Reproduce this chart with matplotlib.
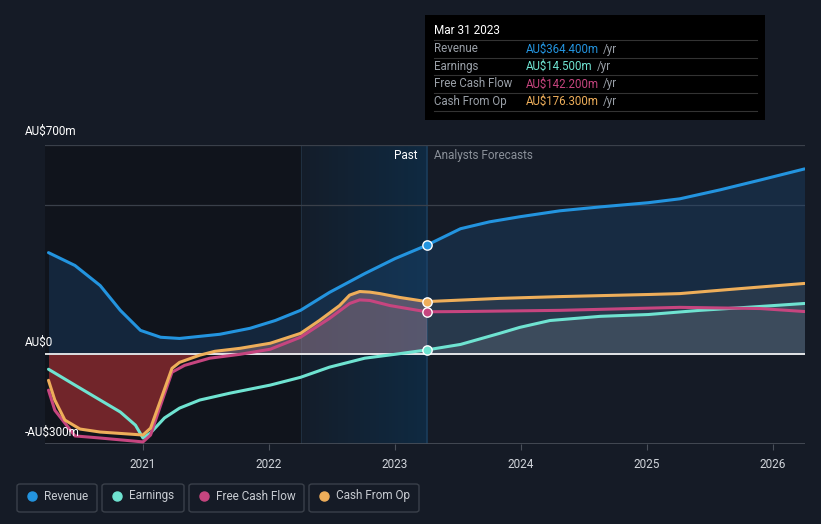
import numpy as np
import matplotlib.pyplot as plt
from matplotlib.patches import FancyBboxPatch, Rectangle

plt.rcParams['font.family'] = ['Roboto', 'DejaVu Sans']

# values in AU$m, dates as decimal years
rev_x = [2020.25, 2020.46, 2020.66, 2020.82, 2020.98, 2021.14, 2021.29, 2021.61, 2021.85,
         2022.05, 2022.25, 2022.48, 2022.76, 2023.0, 2023.25,
         2023.52, 2023.75, 2023.99, 2024.31, 2024.63, 2025.01, 2025.26, 2025.58, 2025.90, 2026.25]
rev_y = [340, 297, 230, 147, 80, 57, 53, 67, 87,
         113, 147, 207, 270, 320, 364.4,
         420, 443, 460, 480, 493, 507, 520, 550, 583, 620]

earn_x = [2020.25, 2020.46, 2020.66, 2020.82, 2020.94, 2021.0, 2021.06, 2021.17, 2021.29,
          2021.45, 2021.69, 2022.01, 2022.25, 2022.48, 2022.76, 2023.0, 2023.25,
          2023.52, 2023.83, 2023.99, 2024.23, 2024.63, 2025.01, 2025.42, 2025.90, 2026.25]
earn_y = [-50, -103, -153, -193, -237, -280, -263, -213, -180,
          -153, -130, -103, -77, -43, -13, 0, 14.5,
          33, 70, 90, 113, 127, 133, 147, 160, 170]

fcf_x = [2020.25, 2020.30, 2020.46, 2020.66, 2021.0, 2021.06, 2021.14, 2021.23, 2021.33,
         2021.53, 2021.77, 2022.01, 2022.25, 2022.48, 2022.64, 2022.72, 2022.80, 2022.96, 2023.25,
         2023.52, 2024.31, 2025.26, 2025.90, 2026.25]
fcf_y = [-120, -187, -273, -280, -293, -270, -170, -60, -37,
         -13, 0, 17, 57, 120, 170, 182, 180, 163, 142.2,
         143, 147, 157, 153, 143]

cfo_x = [2020.25, 2020.30, 2020.38, 2020.50, 2020.66, 2020.90, 2021.0, 2021.06, 2021.14,
         2021.23, 2021.29, 2021.45, 2021.57, 2021.77, 2022.01, 2022.25, 2022.40, 2022.56,
         2022.64, 2022.72, 2022.80, 2022.88, 2023.04, 2023.25,
         2023.83, 2024.31, 2025.01, 2025.26, 2025.66, 2026.25]
cfo_y = [-87, -153, -220, -250, -260, -267, -270, -247, -153,
         -47, -27, -3, 10, 20, 37, 70, 113, 163,
         198, 210, 208, 203, 190, 176.3,
         187, 193, 200, 203, 217, 237]

years = [2021, 2022, 2023, 2024, 2025, 2026]
now = 2023.25

BG = '#151b26'
C_REV = '#2394df'
C_EARN = '#6fe3d1'
C_FCF = '#c6457f'
C_CFO = '#eeae5a'

fig = plt.figure(figsize=(8.21, 5.24), dpi=100, facecolor=BG)
W, H = 821, 524
x0, x1 = 45, 805
y_top, y_bot = 145, 444
ax = fig.add_axes([x0 / W, (H - y_bot) / H, (x1 - x0) / W, (y_bot - y_top) / H])
ax.set_facecolor(BG)
xmin = 2021 - 98 / 126
xmax = 2021 + 662 / 126
ax.set_xlim(xmin, xmax)
ax.set_ylim(-300, 700)
for s in ax.spines.values():
    s.set_visible(False)

# past shading
ax.axvspan(xmin, 2022.25, color='#10141c', zorder=0)
n = 40
edges = np.linspace(2022.25, now, n + 1)
for i in range(n):
    a = 0.15 + 0.85 * i / n
    ax.axvspan(edges[i], edges[i + 1], color='#0f2a42', alpha=a, lw=0, zorder=0)
ax.axvline(2022.25, color='#1f2f40', lw=0.8, zorder=0)
ax.axvline(now, color='#1b3d5c', lw=1.2, zorder=1)

# grid
for v in [700, 500]:
    ax.axhline(v, color='#3a404a', lw=0.9, zorder=1)
ax.axhline(-300, color='#4a505a', lw=1.2, zorder=1)

# fills
rx = np.array(rev_x); ry = np.array(rev_y)
ax.fill_between(rx, ry, 0, color='#1c4a78', alpha=0.35, lw=0, zorder=2)
cx = np.array(cfo_x); cy = np.array(cfo_y)
ax.fill_between(cx, cy, 0, where=cy <= 0, interpolate=True, color='#8a2a2e', alpha=0.8, lw=0, zorder=2)
ax.fill_between(cx, cy, 0, where=(cy >= 0) & (cx <= now + 0.01), interpolate=True,
                color='#d89aa0', alpha=0.35, lw=0, zorder=2)
ax.fill_between(cx, cy, 0, where=cx >= now, color='#8a8a8a', alpha=0.15, lw=0, zorder=2)
ex = np.array(earn_x); ey = np.array(earn_y)
ax.fill_between(ex, ey, 0, where=ex >= now, color='#9aa0a8', alpha=0.18, lw=0, zorder=2)

ax.axhline(0, color='white', lw=1.2, zorder=3)

# lines
lw = 2.2
ax.plot(rev_x, rev_y, color=C_REV, lw=lw, zorder=4, solid_capstyle='round', solid_joinstyle='round')
ax.plot(earn_x, earn_y, color=C_EARN, lw=lw, zorder=4, solid_capstyle='round', solid_joinstyle='round')
ax.plot(fcf_x, fcf_y, color=C_FCF, lw=lw, zorder=4, solid_capstyle='round', solid_joinstyle='round')
ax.plot(cfo_x, cfo_y, color=C_CFO, lw=lw, zorder=4, solid_capstyle='round', solid_joinstyle='round')

for yv, c in [(364.4, C_REV), (14.5, C_EARN), (142.2, C_FCF), (176.3, C_CFO)]:
    ax.scatter([now], [yv], s=45, color=c, edgecolor='white', linewidth=1.0, zorder=6)

ax.set_xticks(years)
ax.set_xticklabels([str(y) for y in years], color='#d0d4da', fontsize=8.5)
ax.tick_params(axis='x', length=4, color='#4a505a', pad=6)
ax.set_yticks([])

ax.text(now - 0.07, 665, 'Past', color='white', fontsize=8.5, ha='right', va='center')
ax.text(now + 0.06, 665, 'Analysts Forecasts', color='#8a9099', fontsize=8.5, ha='left', va='center')

# y labels
fig.text(25 / W, 1 - 131 / H, 'AU$700m', color='white', fontsize=8.5, va='center')
fig.text(25 / W, 1 - 342 / H, 'AU$0', color='white', fontsize=8.5, va='center')
fig.text(25 / W, 1 - 432 / H, '-AU$300m', color='white', fontsize=8.5, va='center')

# tooltip box
fig.patches.append(Rectangle((425 / W, 1 - 120 / H), 340 / W, 105 / H, transform=fig.transFigure,
                             facecolor='#000000', edgecolor='none', zorder=10))
fig.text(434 / W, 1 - 31 / H, 'Mar 31 2023', color='white', fontsize=8.5, va='center', zorder=11)
rows = [('Revenue', 'AU$364.400m', C_REV), ('Earnings', 'AU$14.500m', C_EARN),
        ('Free Cash Flow', 'AU$142.200m', C_FCF), ('Cash From Op', 'AU$176.300m', C_CFO)]
for i, (lab, val, c) in enumerate(rows):
    yy = 49 + i * 17.5
    fig.text(434 / W, 1 - yy / H, lab, color='#9aa0a8', fontsize=8.3, va='center', zorder=11)
    t = fig.text(526 / W, 1 - yy / H, val, color=c, fontsize=8.3, va='center', zorder=11)
    fig.canvas.draw()
    bb = t.get_window_extent()
    fig.text(bb.x1 / W + 4 / W, 1 - yy / H, '/yr', color='#9aa0a8', fontsize=8.3, va='center', zorder=11)
for yy in [40, 58, 75, 93, 111]:
    fig.add_artist(plt.Line2D([434 / W, 757 / W], [1 - yy / H, 1 - yy / H], color='#333333', lw=0.8,
                              transform=fig.transFigure, zorder=11))

# legend boxes
items = [('Revenue', C_REV, 17, 97), ('Earnings', C_EARN, 102, 184),
         ('Free Cash Flow', C_FCF, 189, 304), ('Cash From Op', C_CFO, 309, 419)]
for lab, c, lx, rx_ in items:
    fig.patches.append(FancyBboxPatch((lx / W, 1 - 512 / H), (rx_ - lx) / W, 28 / H,
                                      boxstyle='round,pad=0,rounding_size=0.004',
                                      transform=fig.transFigure, facecolor='none',
                                      edgecolor='#3a404a', lw=1.0))
    fig.add_artist(plt.Line2D([(lx + 15) / W], [1 - 496 / H], marker='o', markersize=6.5,
                              color=c, transform=fig.transFigure))
    fig.text((lx + 27) / W, 1 - 496 / H, lab, color='#c8ccd2', fontsize=8.5, va='center')

fig.savefig('out.png', dpi=100, facecolor=BG)
